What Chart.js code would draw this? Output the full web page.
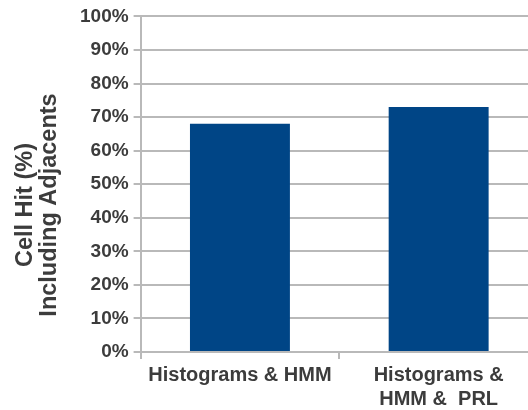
<!DOCTYPE html>
<html>
<head>
<meta charset="utf-8">
<script src="https://cdn.jsdelivr.net/npm/chart.js@4"></script>
<style>
  html, body { margin: 0; padding: 0; background: #fff; overflow: hidden; }
  #wrap { position: absolute; left: 0; top: 0; width: 538px; height: 415px; }
</style>
</head>
<body>
<div id="wrap"><canvas id="chart"></canvas></div>
<script>
// Methods compared
const categories = [['Histograms & HMM'], ['Histograms &', 'HMM &  PRL']];
// Cell hit rate including adjacent cells (%)
const cellHit = [68, 73];
// Y axis range and step (%)
const yMin = 0;
const yMax = 100;
const yStep = 10;
const yTitle = ['Cell Hit (%)', 'Including Adjacents'];

const textColor = '#3c3c3c';
const gridColor = '#b9b9b9';
const family = '"Liberation Sans", Arial, sans-serif';

// Y axis title, centred on the page height rather than the plot area
const sideTitle = {
  id: 'sideTitle',
  afterDraw(chart) {
    const ctx = chart.ctx;
    ctx.save();
    ctx.translate(0, 205);
    ctx.rotate(-Math.PI / 2);
    ctx.fillStyle = textColor;
    ctx.font = 'bold 23.5px ' + family;
    ctx.textAlign = 'center';
    ctx.textBaseline = 'middle';
    ctx.fillText(yTitle[0], 0, 26);
    ctx.fillText(yTitle[1], 0, 50);
    ctx.restore();
  }
};

new Chart(document.getElementById('chart'), {
  type: 'bar',
  data: {
    labels: categories,
    datasets: [{
      data: cellHit,
      backgroundColor: '#004586',
      borderWidth: 0,
      barPercentage: 1,
      categoryPercentage: 0.503
    }]
  },
  plugins: [sideTitle],
  options: {
    responsive: true,
    maintainAspectRatio: false,
    animation: false,
    devicePixelRatio: 1,
    layout: { padding: { top: 12.5, right: 0, left: 75, bottom: 0 } },
    plugins: { legend: { display: false }, tooltip: { enabled: false } },
    scales: {
      x: {
        grid: {
          offset: true,
          drawOnChartArea: false,
          color: gridColor,
          lineWidth: 2,
          tickLength: 7
        },
        border: { color: gridColor, width: 2 },
        ticks: {
          color: textColor,
          font: { family, weight: 'bold', size: 20, lineHeight: 1.2 },
          padding: 4,
          maxRotation: 0,
          autoSkip: false
        }
      },
      y: {
        min: yMin,
        max: yMax,
        grid: {
          color: gridColor,
          lineWidth: 2,
          tickLength: 7
        },
        border: { color: gridColor, width: 2 },
        ticks: {
          stepSize: yStep,
          color: textColor,
          font: { family, weight: 'bold', size: 19 },
          padding: 5,
          callback: v => v + '%'
        }
      }
    }
  }
});
</script>
</body>
</html>
